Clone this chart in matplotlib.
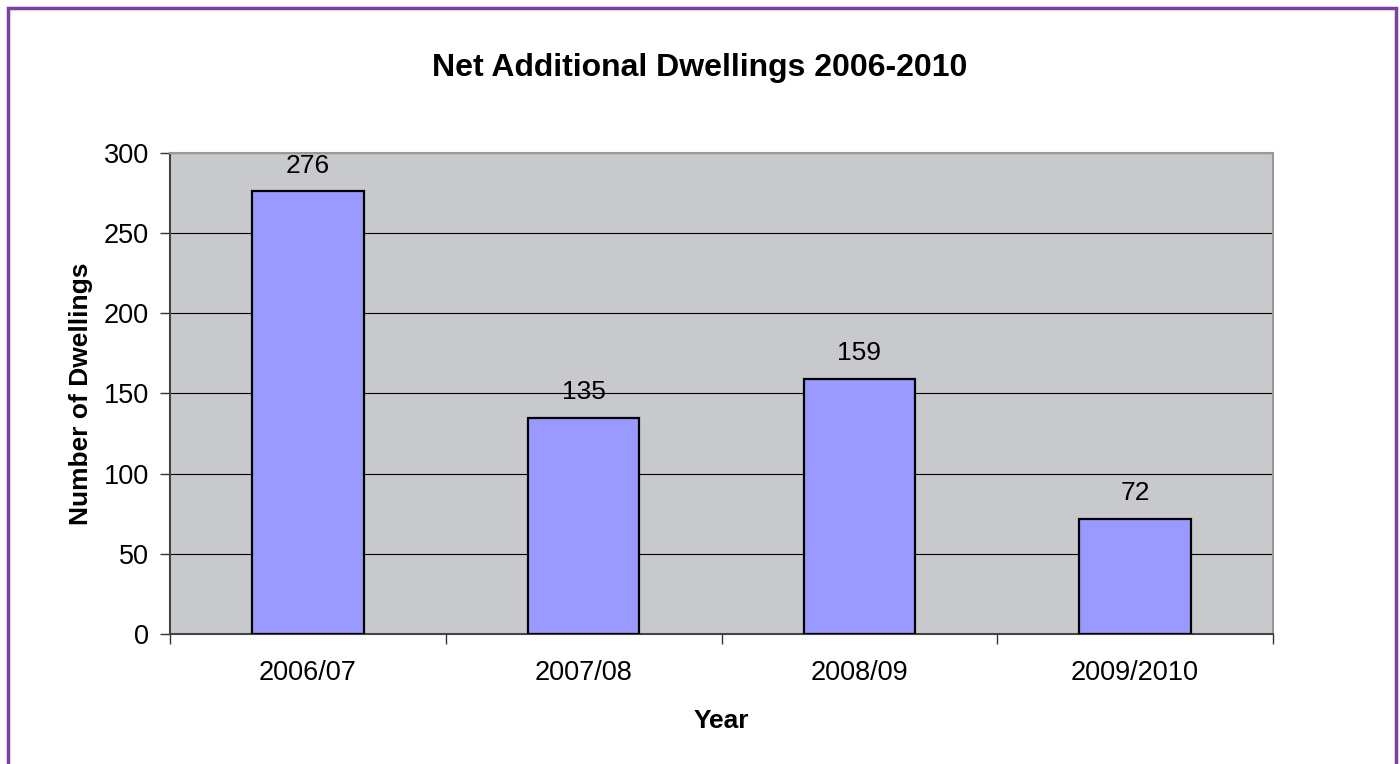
import matplotlib
matplotlib.use("Agg")
import matplotlib.pyplot as plt
from matplotlib.patches import Rectangle

years = ["2006/07", "2007/08", "2008/09", "2009/2010"]
dwellings = [276, 135, 159, 72]

plt.rcParams["font.family"] = ["Liberation Sans", "DejaVu Sans"]

fig = plt.figure(figsize=(14, 7.64), dpi=100)
ax = fig.add_axes([170/1400, 1-634/764, (1273-170)/1400, (634-153)/764])
ax.set_facecolor("#C8C9CC")

x = range(len(years))
ax.bar(x, dwellings, width=0.405, color="#9999FF", edgecolor="black", linewidth=1.6, zorder=3)
for i, v in enumerate(dwellings):
    ax.annotate(str(v), (i, v), xytext=(0, 10), textcoords="offset points",
                ha="center", va="bottom", fontsize=19)

ax.set_xlim(-0.5, len(years)-0.5)
ax.set_ylim(0, 300)
ax.set_yticks(range(0, 301, 50))
ax.yaxis.grid(True, color="black", lw=0.8, zorder=1)
ax.set_axisbelow(True)
ax.set_xticks(x)
ax.set_xticklabels(years, fontsize=19.5)
ax.set_xticks([i - 0.5 for i in range(len(years)+1)], minor=True)
ax.tick_params(axis="x", which="major", length=0, pad=19)
ax.tick_params(axis="x", which="minor", length=7, width=1, color="#333333")
ax.tick_params(axis="y", labelsize=19.5, length=7, width=1, color="#333333", pad=8)

for s in ["top", "right"]:
    ax.spines[s].set_color("#999999"); ax.spines[s].set_linewidth(1.5)
for s in ["left", "bottom"]:
    ax.spines[s].set_color("#444444"); ax.spines[s].set_linewidth(1.5)

ax.set_ylabel("Number of Dwellings", fontsize=19, fontweight="bold", labelpad=8)
ax.set_xlabel("Year", fontsize=19, fontweight="bold", labelpad=16)
fig.text(0.5, 1-68/764, "Net Additional Dwellings 2006-2010", ha="center", va="center",
         fontsize=23, fontweight="bold")

fig.add_artist(Rectangle((8/1400, -0.05), (1396-8)/1400, 1.05-8/764, transform=fig.transFigure,
                         fill=False, edgecolor="#7F3FA0", linewidth=2.5))

fig.savefig("out.png", dpi=100)
